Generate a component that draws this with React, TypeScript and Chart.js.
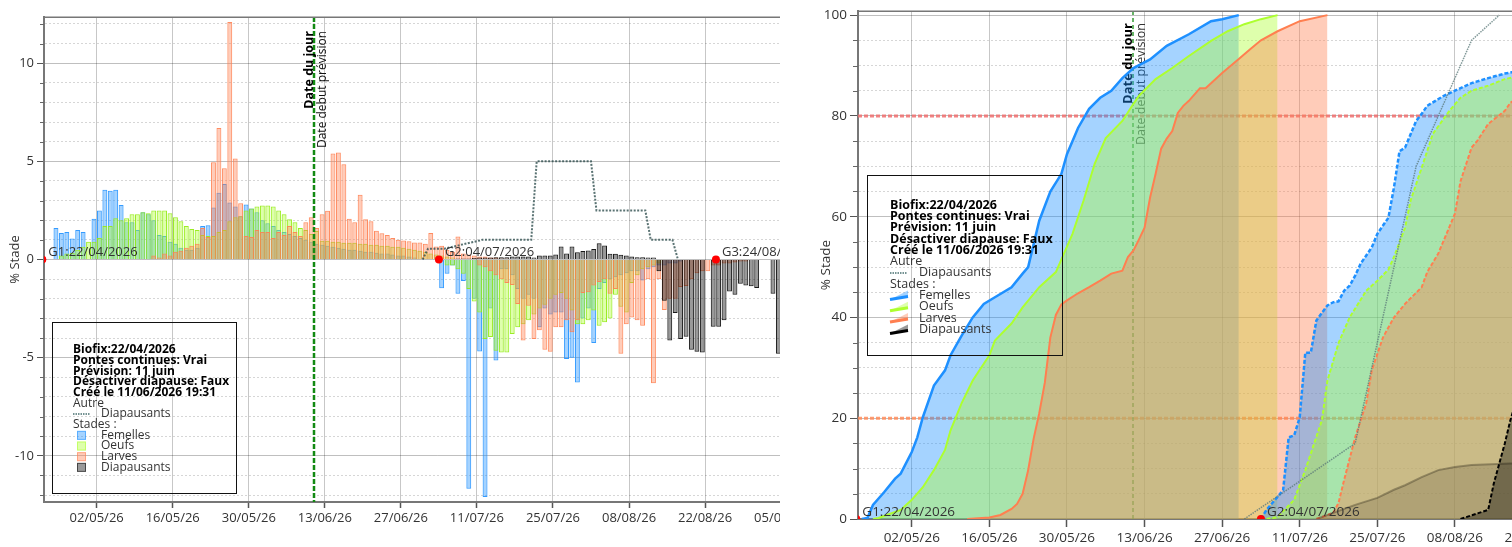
import React, { useEffect, useRef } from "react";
import { Chart, registerables } from "chart.js";

Chart.register(...registerables);

/* ===================== DATA ===================== */
const YEAR = 2026;
const BIOFIX = "22/04/2026";
const TODAY = "11/06/2026";
const GENERATIONS = ["22/04/2026", "04/07/2026", "24/08/2026"];
const X_TICKS = ["02/05/26", "16/05/26", "30/05/26", "13/06/26", "27/06/26", "11/07/26", "25/07/26", "08/08/26", "22/08/26", "05/09/26"];
const X_RANGE_DAYS = [0.3, 145];
const Y_RANGE_DAILY = [-12.35, 12.35];
const Y_RANGE_CUM = [0, 100.8];
const THRESHOLDS = [20, 80];

const INFO_LINES = ["Biofix:22/04/2026", "Pontes continues: Vrai", "Prévision: 11 juin", "Désactiver diapause: Faux", "Créé le 11/06/2026 19:31"];
const OTHER_TITLE = "Autre";
const OTHER_LABEL = "Diapausants";
const STAGES_TITLE = "Stades :";
const STAGE_LABELS = ["Femelles", "Oeufs", "Larves", "Diapausants"];
const Y_TITLE = "% Stade";
const TODAY_LABEL = "Date du jour";
const FORECAST_LABEL = "Date debut prévision";

/* daily % per stage (left panel): first date + one value per day */
const FEM_G1_START = "24/04";
const FEM_G1 = [1.6, 1.35, 1.4, 1.07, 1.5, 1.4, 0, 2.07, 2.5, 3.55, 3.5, 3.55, 2.77, 1.9, 1.9, 1.5, 2.4, 2.3, 2.0, 1.25, 1.2, 0.9, 0.8, 0.6, 0.5, 0.5, 0.6, 1.7, 1.75, 2.65, 3.4, 3.85, 2.9, 2.7, 2.2, 2.8, 2.6, 2.4, 2.0, 1.85, 1.7, 1.5, 1.4, 1.3, 1.2, 1.1, 1.0, 0.9, 0.8, 0.75, 0.7, 0.65, 0.6, 0.55, 0.5, 0.5, 0.45, 0.4, 0.4, 0.35, 0.3, 0.3, 0.25, 0.2, 0.2, 0.15, 0.1];
const FEM_G2_START = "04/07";
const FEM_G2 = [-1.46, -0.73, -0.3, -1.75, -1.1, -11.67, -2.0, -4.68, -12.1, -2.5, -5.15, -0.5, -0.5, -0.8, -1.5, -2.0, -1.8, -2.0, -3.45, -2.5, -2.8, -2.7, -2.7, -5.07, -5.0, -6.26, -3.0, -2.5, -4.25, -1.5, -1.2, -1.0, -0.9, -0.8, -0.7, -0.6, -0.6, -1.07, -0.5, -0.4, -0.3, -0.3, -0.2, -0.2, -0.1];
const OEU_G1_START = "25/04";
const OEU_G1 = [0.2, 0.3, 0.35, 0.5, 0.65, 0.9, 0.9, 1.1, 1.7, 1.7, 2.1, 2.0, 2.1, 2.3, 2.3, 2.4, 2.35, 2.5, 2.5, 2.5, 2.35, 2.15, 1.95, 1.7, 1.55, 1.5, 1.25, 1.2, 1.2, 1.4, 1.5, 1.95, 2.15, 2.2, 2.5, 2.6, 2.7, 2.75, 2.75, 2.7, 2.5, 2.3, 2.05, 1.9, 1.6, 1.5, 1.3, 1.45, 0.95, 0.95, 0.9, 0.9, 0.85, 0.85, 0.85, 0.8, 0.8, 0.75, 0.75, 0.7, 0.7, 0.65, 0.65, 0.6, 0.55, 0.5, 0.45, 0.4, 0.3, 0.25, 0.2, 0.15, 0.1];
const OEU_G2_START = "05/07";
const OEU_G2 = [-0.3, -0.3, -0.5, -0.73, -1.5, -2.14, -2.7, -4.05, -3.95, -4.65, -4.73, -4.73, -3.8, -3.45, -3.3, -3.1, -2.8, -2.5, -2.3, -2.0, -1.8, -1.7, -2.0, -2.6, -3.3, -3.3, -3.1, -2.6, -3.37, -3.2, -3.0, -1.8, -2.4, -2.7, -1.2, -0.8, -0.5, -0.4, -0.3, -0.2];
const LAR_G1_START = "12/05";
const LAR_G1 = [0.2, 0.1, 0.3, 0.2, 0.4, 0.45, 0.6, 0.7, 0.8, 1.6, 1.15, 4.95, 6.7, 4.65, 12.1, 5.15, 2.87, 1.2, 1.15, 1.5, 1.4, 1.4, 1.1, 1.4, 1.25, 1.7, 1.4, 1.2, 1.9, 2.15, 1.6, 2.3, 2.48, 5.4, 5.45, 4.85, 2.07, 1.9, 3.3, 2.05, 1.95, 1.46, 1.34, 1.25, 1.1, 1.0, 0.97, 0.93, 0.87, 0.87, 0.8, 1.35, 0.66, 0.7, 0.5, 0.4, 1.17, 0.3, 0.25, 0.2, 0.15, 0.15, 0.1, 0.1, 0.05, 0.05];
const LAR_G2_START = "11/07";
const LAR_G2 = [-0.3, -0.4, -0.6, -0.8, -1.0, -1.2, -1.3, -2.26, -4.13, -2.35, -4.05, -3.6, -4.6, -4.7, -3.45, -3.45, -3.1, -3.7, -3.1, -1.7, -1.67, -1.33, -1.15, -1.0, -1.75, -1.5, -4.8, -3.3, -2.95, -3.1, -3.37, -1.0, -6.3, -1.0, -2.57, -2.0, -2.0, -1.4, -1.35, -1.0, -0.7, -0.6, -0.6, -0.3, -0.3, -0.2, -0.2, -0.15, -0.1, -0.1];
const DIA_START = "07/07";
const DIA = [0.05, 0.05, 0.05, 0.08, 0.1, 0.1, 0.1, 0.12, 0.12, 0.12, 0.15, 0.15, 0.15, 0.15, 0.1, 0.2, 0.2, 0.2, 0.25, 0.66, 0.3, 0.66, 0.37, 0.43, 0.46, 0.54, 0.83, 0.71, 0.29, 0.29, 0.24, 0.2, 0.15, 0.12, 0.12, 0.1, 0.1, -0.6, -2.1, -4.13, -2.72, -4.05, -3.93, -4.6, -4.7, -4.73, 0, -3.42, -3.42, -3.1, -1.63, -1.8, -1.24, -1.33, -1.36, -1.45, 0, 0, -1.75, -4.8];

/* "Autre : Diapausants" daily (days after biofix) */
const AUTRE_DAY = [70, 71, 74, 81, 90, 91, 101, 102, 111, 112, 116, 117];
const AUTRE = [0, 0.55, 0.55, 1, 1, 5, 5, 2.5, 2.5, 1, 1, 0];

/* cumulative % (right panel), x = days after biofix */
const FEM_G1_CUM_DAY = [1, 2, 3, 5, 7, 8, 10, 11, 12, 14, 16, 17, 19, 21, 23, 25, 28, 30, 31, 33, 35, 37, 38, 40, 42, 44, 46, 48, 50, 53, 56, 60, 64, 66, 69];
const FEM_G1_CUM = [0, 0.2, 2.8, 5.3, 8, 9, 13.3, 16.2, 20.2, 26.5, 29.5, 32.5, 36.4, 40, 42.7, 44, 46, 48.7, 50, 59.2, 65, 68.5, 72.4, 77.6, 81.4, 83.6, 85, 87.5, 89.5, 91.2, 93.9, 96.2, 98.8, 99.2, 100];
const OEU_G1_CUM_DAY = [3, 4, 8, 10, 12, 14, 16, 17, 19, 21, 24, 25, 28, 30, 33, 36, 39, 41, 43, 45, 48, 50, 51, 54, 57, 60, 64, 67, 70, 73, 76];
const OEU_G1_CUM = [0, 0.2, 1.8, 3.8, 6.3, 9.7, 13.7, 17.6, 23, 27.5, 32.5, 35.4, 38.8, 42, 46, 49, 56.6, 63.2, 70.5, 75.6, 79, 82.4, 84, 87.3, 89.5, 91.9, 94.9, 96.8, 98.2, 99.2, 100];
const LAR_G1_CUM_DAY = [20, 24, 26, 28, 29, 30, 31, 32, 33, 34, 35, 36, 37, 38, 40, 42, 44, 46, 48, 49, 50, 51, 52, 53, 54, 55, 56, 57, 58, 59, 60, 62, 63, 64, 66, 69, 71, 73, 76, 80, 85];
const LAR_G1_CUM = [0, 0.3, 0.8, 2.0, 3, 5, 9.7, 16, 21, 27, 36, 40.5, 42.6, 43.4, 44.8, 46, 47.3, 48.7, 49.3, 52, 53.3, 55.5, 57.8, 63.8, 68.5, 73.5, 75.5, 77, 80.6, 82, 83, 85.5, 85.5, 86.5, 88.5, 91.3, 93.2, 95, 96.8, 98.8, 100];
const FEM_G2_CUM_DAY = [73, 74, 76, 77, 78, 79, 80, 81, 82, 83, 85, 86, 87, 88, 89, 90, 91, 93, 94, 96, 97, 98, 99, 101, 102, 103, 106, 108, 111, 114, 117, 120];
const FEM_G2_CUM = [0, 1.8, 4.4, 5.7, 16.2, 16.6, 20.2, 33, 33, 39.4, 42.4, 43, 43.2, 45.3, 46.3, 48.3, 50.7, 53.9, 56.6, 59.8, 65.8, 73, 73.7, 79, 80.4, 82, 84, 85, 86.5, 87.5, 88.4, 89];
const OEU_G2_CUM_DAY = [74, 76, 79, 81, 84, 85, 87, 89, 92, 94, 96, 97, 99, 100, 102, 104, 107, 109, 111, 114, 117, 120];
const OEU_G2_CUM = [0, 0.4, 3.8, 9.7, 19.6, 27.5, 34.9, 40, 45.3, 47.3, 49.5, 52, 57.8, 63.2, 69.7, 76.4, 81, 83.6, 85, 86, 87.3, 88];
const LAR_G2_CUM_DAY = [83, 86, 87, 88, 90, 92, 93, 95, 97, 99, 102, 103, 105, 108, 109, 111, 112, 114, 117, 118, 120];
const LAR_G2_CUM = [0, 1.2, 3.2, 7.7, 16.2, 23, 29.5, 36, 40, 42.7, 46, 49, 52.7, 60.6, 67, 73.7, 75, 78.4, 81, 82.6, 84];
const DIA_G2_CUM_DAY = [83, 90, 94, 97, 99, 102, 105, 108, 111, 118, 120];
const DIA_G2_CUM = [0, 2.8, 4.2, 5.8, 6.7, 8.3, 9.7, 10.3, 10.7, 11, 11];
const DIA_G3_CUM_DAY = [109, 114, 115, 117, 118, 120];
const DIA_G3_CUM = [0, 1.8, 7, 15, 19.6, 27];
const AUTRE_CUM_DAY = [70, 90, 101, 111, 116];
const AUTRE_CUM = [0, 15, 70, 95, 100];

/* ===================== HELPERS ===================== */
const FONT = "'Open Sans', 'Noto Sans', 'DejaVu Sans', sans-serif";
const DAY_MS = 86400000;
type Pt = { x: number; y: number };
type RGB = [number, number, number];

const C_FEM: RGB = [30, 144, 255];
const C_OEU: RGB = [173, 255, 47];
const C_LAR: RGB = [255, 127, 80];
const C_DIA: RGB = [0, 0, 0];
const STAGE_COLORS: RGB[] = [C_FEM, C_OEU, C_LAR, C_DIA];
const rgba = (c: RGB, a: number) => `rgba(${c[0]},${c[1]},${c[2]},${a})`;

function toUTC(s: string): number {
  const p = s.split("/").map(Number);
  const y = p.length < 3 ? YEAR : p[2] < 100 ? 2000 + p[2] : p[2];
  return Date.UTC(y, p[1] - 1, p[0]);
}
const T0 = toUTC(BIOFIX);
const dayOf = (s: string) => Math.round((toUTC(s) - T0) / DAY_MS);
const daily = (start: string, vals: number[]): Pt[] => vals.map((v, i) => ({ x: dayOf(start) + i + 0.5, y: v }));
const pts = (days: number[], vals: number[]): Pt[] => days.map((d, i) => ({ x: d, y: vals[i] }));

type Overlay = {
  fs: number;
  legendFs: number;
  titleX: number;
  todayBehind: boolean;
  todayColor: string;
  todayWidth: number;
  todayDash: number[];
  todayTop: number;
  boldColor: string;
  normalColor: string;
  majorStep: number;
  minorLen: number;
  box: { x: number; y: number; w: number; h: number };
  textX: number;
  labelX: number;
  iconX: number;
  iconW: number;
  firstY: number;
  step: number;
  iconKind: "box" | "line";
};

function overlayPlugin(o: Overlay) {
  const drawToday = (chart: any) => {
    const { ctx, chartArea: a, scales } = chart;
    const x = Math.round(scales.x.getPixelForValue(dayOf(TODAY)));
    ctx.save();
    ctx.strokeStyle = o.todayColor;
    ctx.lineWidth = o.todayWidth;
    ctx.setLineDash(o.todayDash);
    ctx.beginPath();
    ctx.moveTo(x, a.top);
    ctx.lineTo(x, a.bottom);
    ctx.stroke();
    ctx.setLineDash([]);
    ctx.translate(x, a.top + o.todayTop);
    ctx.rotate(-Math.PI / 2);
    ctx.textAlign = "right";
    ctx.textBaseline = "alphabetic";
    ctx.font = `bold ${o.fs - 0.5}px ${FONT}`;
    ctx.fillStyle = o.boldColor;
    ctx.fillText(TODAY_LABEL, 0, -1);
    ctx.font = `${o.fs - 1}px ${FONT}`;
    ctx.fillStyle = o.normalColor;
    ctx.fillText(FORECAST_LABEL, 0, 12);
    ctx.restore();
  };
  const drawGen = (chart: any) => {
    const { ctx, chartArea: a } = chart;
    const idx = chart.data.datasets.findIndex((d: any) => d.label === "generations");
    const meta = chart.getDatasetMeta(idx);
    ctx.save();
    ctx.font = `${o.fs}px ${FONT}`;
    ctx.fillStyle = "#333";
    ctx.textAlign = "left";
    ctx.textBaseline = "alphabetic";
    meta.data.forEach((el: any, i: number) => {
      if (el.x > a.right) return;
      ctx.fillText(`G${i + 1}:${GENERATIONS[i]}`, Math.max(el.x, a.left - 2) + 6, el.y - 3.5);
    });
    ctx.restore();
  };
  const drawFrame = (chart: any) => {
    const { ctx, chartArea: a, scales } = chart;
    ctx.save();
    ctx.strokeStyle = "#777";
    ctx.lineWidth = 1.5;
    ctx.beginPath();
    ctx.moveTo(a.left, a.top + 0.25);
    ctx.lineTo(a.right, a.top + 0.25);
    ctx.stroke();
    ctx.lineWidth = 1;
    ctx.strokeStyle = "#666";
    scales.y.ticks.forEach((t: any) => {
      if (Math.abs(t.value % o.majorStep) < 1e-9) return;
      const y = Math.round(scales.y.getPixelForValue(t.value)) + 0.5;
      ctx.beginPath();
      ctx.moveTo(a.left - o.minorLen, y);
      ctx.lineTo(a.left, y);
      ctx.stroke();
    });
    ctx.restore();
  };
  const drawIcon = (ctx: any, x0: number, y: number, c: RGB) => {
    if (o.iconKind === "box") {
      ctx.fillStyle = rgba(c, 0.4);
      ctx.fillRect(x0, y - 4.5, 9, 9);
      ctx.strokeStyle = rgba(c, 0.55);
      ctx.lineWidth = 1;
      ctx.strokeRect(x0 + 0.5, y - 4, 8, 8);
    } else {
      const x1 = x0 + o.iconW;
      ctx.fillStyle = rgba(c, 0.4);
      ctx.beginPath();
      ctx.moveTo(x0, y + 4);
      ctx.lineTo(x1, y - 5);
      ctx.lineTo(x1, y + 2);
      ctx.closePath();
      ctx.fill();
      ctx.strokeStyle = rgba(c, 1);
      ctx.lineWidth = 3;
      ctx.beginPath();
      ctx.moveTo(x0, y + 4);
      ctx.lineTo(x1, y + 1);
      ctx.stroke();
    }
  };
  const drawLegend = (chart: any) => {
    const { ctx, chartArea: a } = chart;
    ctx.save();
    ctx.strokeStyle = "#111";
    ctx.lineWidth = 1;
    ctx.strokeRect(Math.round(a.left + o.box.x) + 0.5, Math.round(a.top + o.box.y) + 0.5, o.box.w, o.box.h);
    const tx = a.left + o.textX;
    const lx = a.left + o.labelX;
    let y = a.top + o.firstY;
    ctx.textAlign = "left";
    ctx.textBaseline = "middle";
    ctx.font = `bold ${o.legendFs}px ${FONT}`;
    ctx.fillStyle = "#000";
    INFO_LINES.forEach((l) => {
      ctx.fillText(l, tx, y);
      y += o.step;
    });
    ctx.font = `${o.legendFs}px ${FONT}`;
    ctx.fillStyle = "#333";
    ctx.fillText(OTHER_TITLE, tx, y);
    y += o.step;
    ctx.strokeStyle = "rgba(70,110,110,0.75)";
    ctx.lineWidth = 2;
    ctx.setLineDash([1.5, 1]);
    ctx.beginPath();
    ctx.moveTo(tx, y);
    ctx.lineTo(tx + 17, y);
    ctx.stroke();
    ctx.setLineDash([]);
    ctx.fillStyle = "#333";
    ctx.fillText(OTHER_LABEL, lx, y);
    y += o.step;
    ctx.fillText(STAGES_TITLE, tx, y);
    y += o.step;
    STAGE_LABELS.forEach((lab, i) => {
      drawIcon(ctx, a.left + o.iconX, y, STAGE_COLORS[i]);
      ctx.fillStyle = "#333";
      ctx.fillText(lab, lx, y);
      y += o.step;
    });
    ctx.restore();
  };
  const drawTitle = (chart: any) => {
    const { ctx, chartArea: a } = chart;
    ctx.save();
    ctx.translate(o.titleX, (a.top + a.bottom) / 2);
    ctx.rotate(-Math.PI / 2);
    ctx.textAlign = "center";
    ctx.textBaseline = "middle";
    ctx.font = `${o.fs}px ${FONT}`;
    ctx.fillStyle = "#333";
    ctx.fillText(Y_TITLE, 0, 0);
    ctx.restore();
  };
  return {
    id: "overlay",
    beforeDatasetsDraw(chart: any) {
      if (o.todayBehind) drawToday(chart);
    },
    afterDatasetsDraw(chart: any) {
      if (!o.todayBehind) drawToday(chart);
      drawGen(chart);
    },
    afterDraw(chart: any) {
      drawFrame(chart);
      drawLegend(chart);
      drawTitle(chart);
    },
  };
}

function scales(opts: { yMin: number; yMax: number; yStep: number; yMajor: number; yWidth: number; xHeight: number; fs: number; xTick: number; xPad: number; yTick: number }) {
  const isMajor = (v: number) => Math.abs(v % opts.yMajor) < 1e-9;
  const font = { family: FONT, size: opts.fs };
  return {
    x: {
      type: "linear",
      min: X_RANGE_DAYS[0],
      max: X_RANGE_DAYS[1],
      offset: false,
      afterBuildTicks: (s: any) => {
        s.ticks = X_TICKS.map((t) => ({ value: dayOf(t) }));
      },
      afterFit: (s: any) => {
        s.height = opts.xHeight;
      },
      ticks: { callback: (_v: any, i: number) => X_TICKS[i], font, color: "#333", padding: opts.xPad, maxRotation: 0, autoSkip: false },
      grid: { offset: false, color: "rgba(0,0,0,0.22)", lineWidth: 1, tickLength: opts.xTick, tickColor: "#555", tickWidth: 1.5 },
      border: { color: "#777", width: 2 },
    },
    y: {
      type: "linear",
      min: opts.yMin,
      max: opts.yMax,
      afterBuildTicks: (s: any) => {
        const t: any[] = [];
        for (let v = Math.ceil(opts.yMin / opts.yStep) * opts.yStep; v <= opts.yMax; v += opts.yStep) t.push({ value: v });
        s.ticks = t;
      },
      afterFit: (s: any) => {
        s.width = opts.yWidth;
      },
      ticks: { callback: (v: number) => (isMajor(v) ? String(v) : ""), font, color: "#333", padding: 3, autoSkip: false },
      grid: {
        color: (c: any) => (c.tick && isMajor(c.tick.value) ? "rgba(0,0,0,0.25)" : "rgba(0,0,0,0.16)"),
        lineWidth: 1,
        tickLength: opts.yTick,
        tickColor: (c: any) => (c.tick && isMajor(c.tick.value) ? "#555" : "rgba(0,0,0,0)"),
      },
      border: { color: "#777", width: 2, dash: (c: any) => (c.tick && !isMajor(c.tick.value) ? [2, 2] : []) },
    },
  };
}

function leftConfig(): any {
  const bar = (label: string, data: Pt[], c: RGB, border?: string) => ({
    type: "bar",
    label,
    data,
    backgroundColor: rgba(c, 0.4),
    borderColor: border || rgba(c, 0.9),
    borderWidth: 1,
    order: 3,
  });
  return {
    type: "bar",
    data: {
      datasets: [
        { type: "line", label: "generations", data: GENERATIONS.map((g) => ({ x: dayOf(g), y: 0 })), showLine: false, pointRadius: 4, pointBackgroundColor: "#ff0000", pointBorderColor: "#ff0000", pointBorderWidth: 0, order: 0 },
        { type: "line", label: "autre", data: pts(AUTRE_DAY, AUTRE), borderColor: "rgba(47,79,79,0.8)", borderWidth: 2, borderDash: [2, 1.5], pointRadius: 0, fill: false, tension: 0, order: 1 },
        bar("Diapausants", daily(DIA_START, DIA), C_DIA),
        bar("Larves G1", daily(LAR_G1_START, LAR_G1), C_LAR),
        bar("Larves G2", daily(LAR_G2_START, LAR_G2), C_LAR),
        bar("Oeufs G1", daily(OEU_G1_START, OEU_G1), C_OEU, "rgba(150,235,25,0.95)"),
        bar("Oeufs G2", daily(OEU_G2_START, OEU_G2), C_OEU, "rgba(150,235,25,0.95)"),
        bar("Femelles G1", daily(FEM_G1_START, FEM_G1), C_FEM),
        bar("Femelles G2", daily(FEM_G2_START, FEM_G2), C_FEM),
      ],
    },
    options: {
      animation: false,
      responsive: false,
      devicePixelRatio: 1,
      layout: { padding: { top: 17, right: 10, left: 0, bottom: 0 } },
      datasets: { bar: { grouped: false, barPercentage: 0.9, categoryPercentage: 1 } },
      plugins: { legend: { display: false }, tooltip: { enabled: false } },
      scales: scales({ yMin: Y_RANGE_DAILY[0], yMax: Y_RANGE_DAILY[1], yStep: 1, yMajor: 5, yWidth: 44, xHeight: 45, fs: 13, xTick: 6, xPad: 2, yTick: 7 }),
    },
    plugins: [
      overlayPlugin({
        fs: 13,
        legendFs: 12,
        titleX: 15,
        todayBehind: false,
        todayColor: "#138a13",
        todayWidth: 2.5,
        todayDash: [5, 2],
        todayTop: 14,
        boldColor: "#000",
        normalColor: "#111",
        majorStep: 5,
        minorLen: 4,
        box: { x: 8, y: 305, w: 184, h: 171 },
        textX: 29,
        labelX: 57,
        iconX: 33,
        iconW: 9,
        firstY: 333,
        step: 10.67,
        iconKind: "box",
      }),
    ],
  };
}

function rightConfig(): any {
  /* higher "order" is drawn first: Femelles at the bottom, then Oeufs, then Larves, then Diapausants */
  const line = (label: string, data: Pt[], c: RGB, order: number, extra: any = {}) => ({
    type: "line",
    label,
    data,
    borderColor: rgba(c, 1),
    backgroundColor: rgba(c, 0.4),
    fill: "origin",
    pointRadius: 0,
    borderWidth: 2,
    tension: 0,
    order,
    ...extra,
  });
  const thrColors = ["rgba(255,140,90,0.85)", "rgba(240,110,110,0.85)"];
  return {
    type: "line",
    data: {
      datasets: [
        { type: "line", label: "generations", data: GENERATIONS.map((g) => ({ x: dayOf(g), y: 0 })), showLine: false, pointRadius: 4, pointBackgroundColor: "#ff0000", pointBorderColor: "#ff0000", pointBorderWidth: 0, order: 0 },
        { type: "line", label: "autre", data: pts(AUTRE_CUM_DAY, AUTRE_CUM), borderColor: "rgba(90,120,120,0.75)", borderWidth: 1.5, borderDash: [1.5, 1], pointRadius: 0, fill: false, tension: 0, order: 1 },
        line("Diapausants G3", pts(DIA_G3_CUM_DAY, DIA_G3_CUM), C_DIA, 2, { borderDash: [4, 2], backgroundColor: "rgba(0,0,0,0.35)", borderWidth: 2 }),
        line("Diapausants G2", pts(DIA_G2_CUM_DAY, DIA_G2_CUM), C_DIA, 3, { borderColor: "rgba(40,35,20,0.35)", backgroundColor: "rgba(0,0,0,0.13)", borderWidth: 2 }),
        line("Larves G2", pts(LAR_G2_CUM_DAY, LAR_G2_CUM), C_LAR, 4, { borderDash: [4, 2] }),
        line("Oeufs G2", pts(OEU_G2_CUM_DAY, OEU_G2_CUM), C_OEU, 5, { borderDash: [4, 2] }),
        line("Femelles G2", pts(FEM_G2_CUM_DAY, FEM_G2_CUM), C_FEM, 6, { borderDash: [4, 2], borderWidth: 2.5 }),
        line("Larves G1", pts(LAR_G1_CUM_DAY, LAR_G1_CUM), C_LAR, 7),
        line("Oeufs G1", pts(OEU_G1_CUM_DAY, OEU_G1_CUM), C_OEU, 8),
        line("Femelles G1", pts(FEM_G1_CUM_DAY, FEM_G1_CUM), C_FEM, 9, { borderWidth: 2.5 }),
        ...THRESHOLDS.map((t, i) => ({
          type: "line",
          label: `seuil ${t}`,
          data: [
            { x: X_RANGE_DAYS[0], y: t },
            { x: X_RANGE_DAYS[1], y: t },
          ],
          borderColor: thrColors[i],
          borderWidth: 3,
          borderDash: [4, 2],
          pointRadius: 0,
          fill: false,
          order: 20,
        })),
      ],
    },
    options: {
      animation: false,
      responsive: false,
      devicePixelRatio: 1,
      layout: { padding: { top: 10, right: 10, left: 0, bottom: 0 } },
      plugins: { legend: { display: false }, tooltip: { enabled: false } },
      scales: scales({ yMin: Y_RANGE_CUM[0], yMax: Y_RANGE_CUM[1], yStep: 5, yMajor: 20, yWidth: 66, xHeight: 28, fs: 13.5, xTick: 8, xPad: 3, yTick: 8 }),
    },
    plugins: [
      overlayPlugin({
        fs: 13.5,
        legendFs: 12.5,
        titleX: 34,
        todayBehind: true,
        todayColor: "rgba(0,128,0,0.6)",
        todayWidth: 2,
        todayDash: [4, 3],
        todayTop: 12,
        boldColor: "#000",
        normalColor: "#333",
        majorStep: 20,
        minorLen: 5,
        box: { x: 9, y: 164, w: 195, h: 180 },
        textX: 32,
        labelX: 61,
        iconX: 32,
        iconW: 18,
        firstY: 194,
        step: 11.3,
        iconKind: "line",
      }),
    ],
  };
}

function ChartCanvas({ make, width, height }: { make: () => any; width: number; height: number }) {
  const ref = useRef<HTMLCanvasElement>(null);
  useEffect(() => {
    const chart = new Chart(ref.current as HTMLCanvasElement, make());
    return () => chart.destroy();
  }, []);
  return <canvas ref={ref} width={width} height={height} style={{ display: "block", width, height }} />;
}

export default function App() {
  return (
    <div style={{ position: "fixed", left: 0, top: 0, width: 1512, height: 547, overflow: "hidden", background: "#fff" }}>
      <div style={{ position: "absolute", left: 0, top: 0, width: 780, height: 547, overflow: "hidden" }}>
        <ChartCanvas make={leftConfig} width={840} height={547} />
      </div>
      <div style={{ position: "absolute", left: 792, top: 0, width: 720, height: 547, overflow: "hidden" }}>
        <ChartCanvas make={rightConfig} width={878} height={547} />
      </div>
    </div>
  );
}
